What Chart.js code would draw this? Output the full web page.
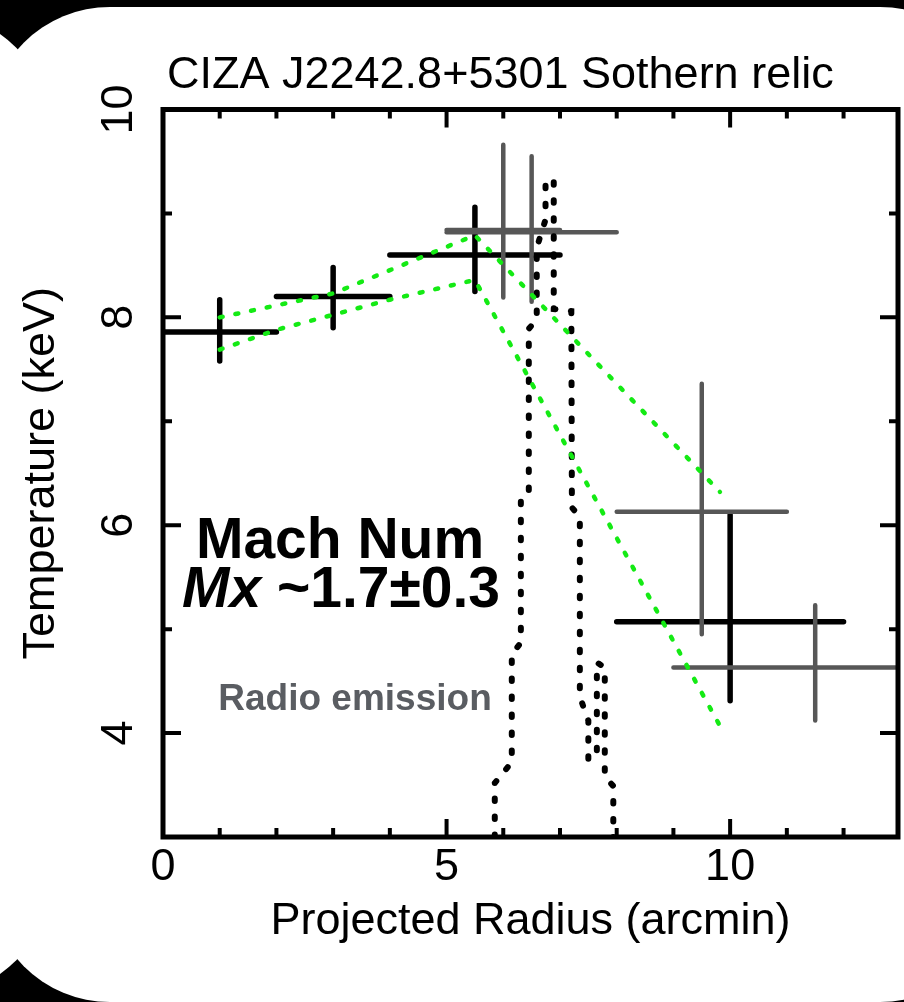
<!DOCTYPE html>
<html>
<head>
<meta charset="utf-8">
<script src="https://cdn.jsdelivr.net/npm/chart.js@4.4.1/dist/chart.umd.min.js"></script>
<style>
  html, body { margin: 0; padding: 0; background: #000; overflow: hidden; }
  .wrap { position: relative; width: 904px; height: 1002px; overflow: hidden; background: #000; }
  .panel { position: absolute; background: #fff; border-radius: 122px; }
  #prev { left: -600px; top: 12px; width: 652px; height: 984px; }
  #main { left: -12px; top: 7px; width: 1014px; height: 995px; }
  #box { position: absolute; left: 0; top: 0; width: 904px; height: 1002px; }
</style>
</head>
<body>
<div class="wrap">
  <div class="panel" id="prev"></div>
  <div class="panel" id="main"></div>
  <div id="box"><canvas id="relicChart"></canvas></div>
</div>
<script>
// === DATA (radius in arcmin, temperature in keV) ===
const blackR     = [1, 3, 5.5, 10];
const blackRErr  = [1, 1, 1.5, 2];
const blackT     = [7.86, 8.20, 8.60, 5.07];
const blackTLow  = [7.58, 7.90, 8.25, 4.31];
const blackTHigh = [8.17, 8.48, 9.06, 6.10];

const grayR      = [6, 6.5, 9.5, 11.5];
const grayRErr   = [1, 1.5, 1.5, 2.5];
const grayT      = [8.84, 8.82, 6.13, 4.63];
const grayTLow   = [8.19, 8.15, 4.95, 4.12];
const grayTHigh  = [9.66, 9.55, 7.36, 5.23];

const upperR = [1, 3, 5.5, 9.82];
const upperT = [8.0, 8.23, 8.79, 6.32];
const lowerR = [1, 2, 4, 5.5, 9.89];
const lowerT = [7.69, 7.88, 8.17, 8.36, 4.0];

const radioLeftR  = [5.85, 5.85, 6.15, 6.15, 6.31, 6.31, 6.45, 6.45, 6.59, 6.59, 6.745, 6.745];
const radioLeftT  = [3.0, 3.52, 3.72, 4.76, 4.87, 6.24, 6.30, 7.89, 7.98, 8.67, 8.94, 9.29];
const radioRightR = [6.89, 6.89, 7.2, 7.21, 7.35, 7.35, 7.50, 7.50, 7.65, 7.65, 7.79, 7.79, 7.94, 7.94];
const radioRightT = [9.30, 8.08, 8.06, 6.17, 6.08, 4.35, 4.12, 3.74, 3.80, 4.68, 4.63, 3.58, 3.49, 3.0];

const xTickLabels = [0, 5, 10];
const yTickLabels = [4, 6, 8, 10];
const xMin = 0, xMax = 12.96;
const yMin = 3, yMax = 10;

// === HELPERS ===
const zip = (xs, ys) => xs.map((x, i) => ({ x: x, y: ys[i] }));

function crossPoints(r, rErr, t, tLow, tHigh) {
  const pts = [];
  r.forEach((x, i) => {
    pts.push({ x: x - rErr[i], y: t[i] }, { x: x + rErr[i], y: t[i] }, { x: x, y: null });
    pts.push({ x: x, y: tLow[i] }, { x: x, y: tHigh[i] }, { x: x, y: null });
  });
  return pts;
}

const FONT = '"Liberation Sans", Arial, Helvetica, sans-serif';
Chart.defaults.font.family = FONT;
Chart.defaults.color = '#000';

// === FRAME, INWARD TICKS AND TEXT ===
const framePlugin = {
  id: 'frame',
  afterDraw(chart) {
    const { ctx, chartArea: a, scales: { x, y } } = chart;
    ctx.save();
    ctx.strokeStyle = '#000';
    ctx.lineWidth = 5;
    ctx.strokeRect(a.left, a.top, a.right - a.left, a.bottom - a.top);

    ctx.lineWidth = 4;
    ctx.beginPath();
    for (let v = Math.ceil(xMin); v <= xMax; v++) {
      const px = x.getPixelForValue(v);
      const len = xTickLabels.includes(v) ? 18 : 9;
      ctx.moveTo(px, a.bottom); ctx.lineTo(px, a.bottom - len);
      ctx.moveTo(px, a.top); ctx.lineTo(px, a.top + len);
    }
    for (let v = yMin; v <= yMax; v++) {
      const py = y.getPixelForValue(v);
      const len = yTickLabels.includes(v) ? 18 : 9;
      ctx.moveTo(a.left, py); ctx.lineTo(a.left + len, py);
      ctx.moveTo(a.right, py); ctx.lineTo(a.right - len, py);
    }
    ctx.stroke();

    // title
    ctx.fillStyle = '#000';
    ctx.textAlign = 'left';
    ctx.textBaseline = 'alphabetic';
    ctx.font = '45px ' + FONT;
    ctx.fillText('CIZA J2242.8+5301 Sothern relic', 167, 88);

    // Mach number annotation
    ctx.textAlign = 'center';
    ctx.font = 'bold 57px ' + FONT;
    ctx.fillText('Mach Num', 340, 558);

    const fItal = 'italic bold 57px ' + FONT;
    const fBold = 'bold 57px ' + FONT;
    ctx.font = fItal;
    const w1 = ctx.measureText('Mx').width;
    ctx.font = fBold;
    const w2 = ctx.measureText(' ~1.7±0.3').width;
    const x0 = 341 - (w1 + w2) / 2;
    ctx.textAlign = 'left';
    ctx.font = fItal;
    ctx.fillText('Mx', x0, 607);
    ctx.font = fBold;
    ctx.fillText(' ~1.7±0.3', x0 + w1, 607);

    // radio label
    ctx.textAlign = 'center';
    ctx.fillStyle = '#5a5d62';
    ctx.font = 'bold 37px ' + FONT;
    ctx.fillText('Radio emission', 355, 710);
    ctx.restore();
  }
};

// === CHART ===
new Chart(document.getElementById('relicChart'), {
  type: 'scatter',
  data: {
    datasets: [
      { label: 'fit upper', data: zip(upperR, upperT), showLine: true, borderColor: '#14ea14',
        borderWidth: 4.5, borderDash: [3, 13], borderCapStyle: 'round', pointRadius: 0, order: 0 },
      { label: 'fit lower', data: zip(lowerR, lowerT), showLine: true, borderColor: '#14ea14',
        borderWidth: 4.5, borderDash: [3, 13], borderCapStyle: 'round', pointRadius: 0, order: 0 },
      { label: 'radio left', data: zip(radioLeftR, radioLeftT), showLine: true, borderColor: '#000',
        borderWidth: 6, borderDash: [2.5, 15.5], borderCapStyle: 'round', pointRadius: 0, order: 1, clip: 0 },
      { label: 'radio right', data: zip(radioRightR, radioRightT), showLine: true, borderColor: '#000',
        borderWidth: 6, borderDash: [2.5, 15.5], borderCapStyle: 'round', pointRadius: 0, order: 1, clip: 0 },
      { label: 'gray', data: crossPoints(grayR, grayRErr, grayT, grayTLow, grayTHigh), showLine: true,
        borderColor: '#575757', borderWidth: 4.5, borderCapStyle: 'round', pointRadius: 0, order: 2, clip: 0 },
      { label: 'black', data: crossPoints(blackR, blackRErr, blackT, blackTLow, blackTHigh), showLine: true,
        borderColor: '#000', borderWidth: 5.5, borderCapStyle: 'round', pointRadius: 0, order: 3, clip: 0 }
    ]
  },
  options: {
    responsive: true,
    maintainAspectRatio: false,
    devicePixelRatio: 1,
    animation: false,
    layout: { padding: { left: 0, right: 6, top: 109.5, bottom: 0 } },
    plugins: { legend: { display: false }, tooltip: { enabled: false }, title: { display: false } },
    scales: {
      x: {
        type: 'linear', min: xMin, max: xMax,
        grid: { display: false, drawTicks: false },
        border: { display: false },
        afterBuildTicks: s => { s.ticks = xTickLabels.map(v => ({ value: v })); },
        afterFit: s => { s.height = 165; },
        ticks: { font: { size: 45 }, color: '#000', padding: 4, autoSkip: false, maxRotation: 0 },
        title: { display: true, text: 'Projected Radius (arcmin)', font: { size: 45 }, color: '#000',
                 padding: { top: 0, bottom: 53 } }
      },
      y: {
        type: 'linear', min: yMin, max: yMax,
        grid: { display: false, drawTicks: false },
        border: { display: false },
        afterBuildTicks: s => { s.ticks = yTickLabels.map(v => ({ value: v })); },
        afterFit: s => { s.width = 163; },
        ticks: { font: { size: 45 }, color: '#000', padding: 18, autoSkip: false,
                 minRotation: 90, maxRotation: 90, crossAlign: 'center' },
        title: { display: true, text: 'Temperature (keV)', font: { size: 45 }, color: '#000',
                 padding: { top: 15, bottom: 0 } }
      }
    }
  },
  plugins: [framePlugin]
});
</script>
</body>
</html>
